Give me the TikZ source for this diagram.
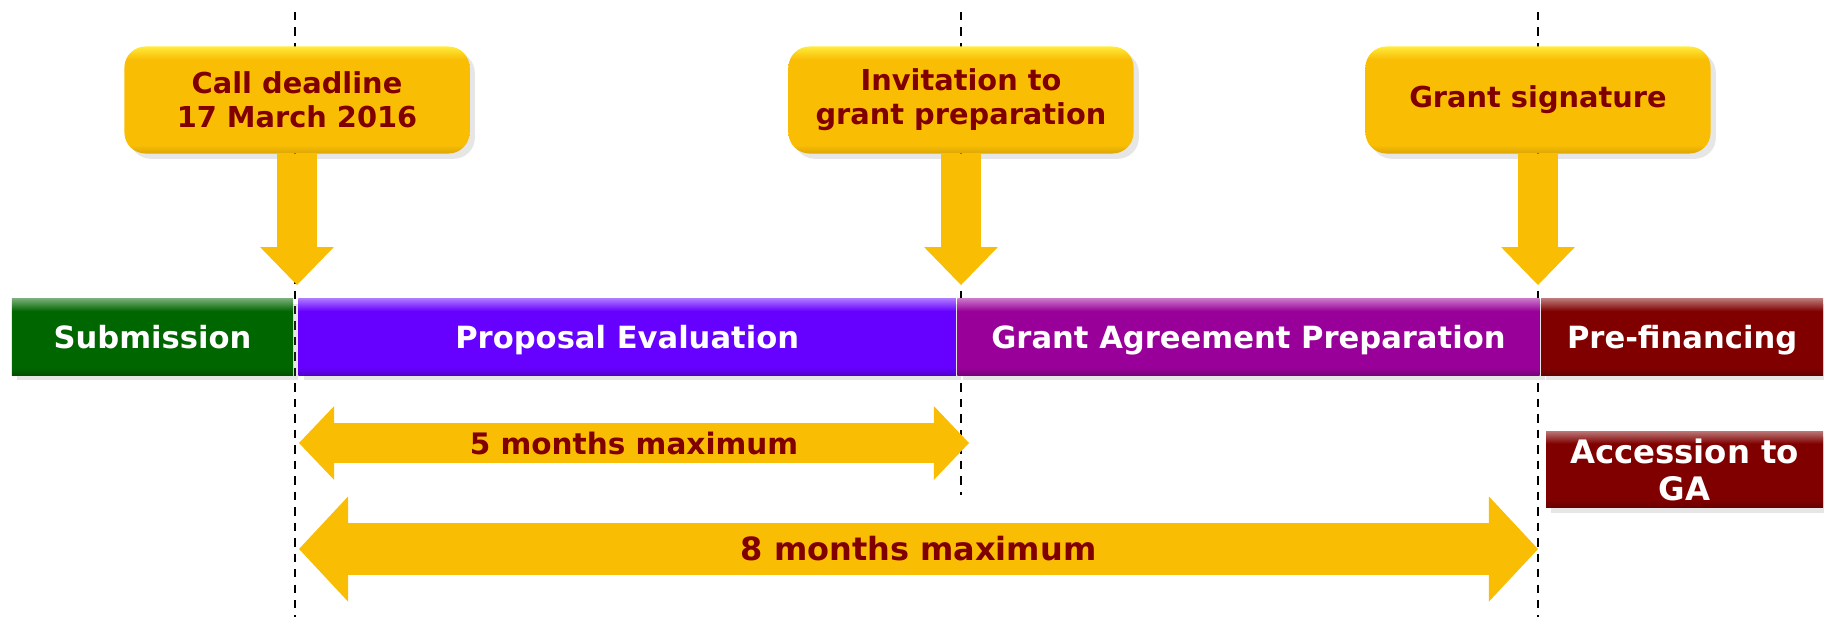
\documentclass[tikz,border=0pt]{standalone}
\usepackage{fontspec}
\setmainfont{DejaVu Sans}
\usetikzlibrary{arrows.meta,positioning,shadows}
\definecolor{gold}{HTML}{F9BD04}
\definecolor{goldhi}{HTML}{FFEB3B}
\definecolor{maroon}{HTML}{800000}
\definecolor{subcol}{HTML}{006600}
\definecolor{evalcol}{HTML}{6600FF}
\definecolor{prepcol}{HTML}{990099}
\definecolor{fincol}{HTML}{800000}
\colorlet{bevel}{gold}
\pgfdeclareverticalshading[bevel]{bevelled}{100bp}{color(0bp)=(bevel!80!black);
  color(25bp)=(bevel!80!black); color(30bp)=(bevel); color(67bp)=(bevel);
  color(75bp)=(bevel!55!white); color(100bp)=(bevel!55!white)}
\pgfdeclareverticalshading{goldbevel}{100bp}{color(0bp)=(gold!88!black);
  color(25bp)=(gold!88!black); color(29bp)=(gold); color(69bp)=(gold);
  color(75bp)=(goldhi); color(100bp)=(goldhi)}
\tikzset{phase/.style={minimum height=7.6mm,inner sep=0pt,text=white,align=center,
  /utils/exec={\colorlet{bevel}{#1}},shading=bevelled,
  font=\bfseries\fontsize{8.7}{10}\selectfont,
  drop shadow={opacity=0.2,shadow xshift=1.5pt,shadow yshift=-1.5pt}},
  oneline/.style={text height=1.55ex,text depth=0.35ex},
  callout/.style={rounded corners=6pt,minimum width=34.5mm,minimum height=10.7mm,
  align=center,text=maroon,font=\bfseries\fontsize{8.2}{9.6}\selectfont,
  shading=goldbevel,
  drop shadow={opacity=0.2,shadow xshift=1.5pt,shadow yshift=-1.5pt}},
  stem/.style={line width=11.4pt,draw=gold,-{Triangle[width=21pt,length=10.8pt,line width=0pt]}},
  guide/.style={draw=black,line width=0.5pt,dash pattern=on 2.4pt off 2pt}}

\begin{document}
\begin{tikzpicture}[x=0.01cm,y=-0.01cm]
\useasboundingbox (0,0) rectangle (1824,617);
% milestones on the time line
\coordinate (d1top) at (295,12);   \coordinate (d1bot) at (295,617);
\coordinate (d2top) at (961,12);   \coordinate (d2bot) at (961,495);
\coordinate (d3top) at (1538,12);  \coordinate (d3bot) at (1538,617);
\draw[guide] (d1top)--(d1bot);
\draw[guide] (d2top)--(d2bot);
\draw[guide] (d3top)--(d3bot);

% phases
\node[phase=subcol,oneline,minimum width=2.81cm] (sub) at (152.5,337) {Submission};
\node[phase=evalcol,oneline,minimum width=6.57cm,right=0.04cm of sub] (eval) {Proposal Evaluation};
\node[phase=prepcol,oneline,minimum width=5.82cm,right=0pt of eval] (prep) {Grant Agreement Preparation};
\node[phase=fincol,oneline,minimum width=2.82cm,right=0pt of prep] (fin) {Pre-financing};
\node[phase=fincol,minimum width=2.77cm,font=\bfseries\fontsize{9.2}{10.5}\selectfont,
  below=0.55cm of fin.south east,anchor=north east] (acc) {Accession to\\GA};

% call-outs
\node[callout] (call) at (297,100) {Call deadline\\17 March 2016};
\node[callout] (invite) at (961,100) {Invitation to\\grant preparation};
\node[callout] (sign) at (1538,100) {Grant signature};
\coordinate (t1) at (297,285);
\coordinate (t2) at (961,285);
\coordinate (t3) at (1538,285);
\draw[stem] (call)--(t1);
\draw[stem] (invite)--(t2);
\draw[stem] (sign)--(t3);

% durations
\coordinate (a5l) at (299,443); \coordinate (a5r) at (969,443);
\coordinate (a8l) at (299,549); \coordinate (a8r) at (1538,549);
\draw[line width=11.4pt,draw=gold,{Triangle[width=21pt,length=10pt,line width=0pt]}-{Triangle[width=21pt,length=10pt,line width=0pt]}]
  (a5l)--(a5r) node[midway,text=maroon,font=\bfseries\fontsize{8.4}{10}\selectfont] (five) {5 months maximum};
\draw[line width=14.8pt,draw=gold,{Triangle[width=30pt,length=14pt,line width=0pt]}-{Triangle[width=30pt,length=14pt,line width=0pt]}]
  (a8l)--(a8r) node[midway,text=maroon,font=\bfseries\fontsize{9.1}{11}\selectfont] (eight) {8 months maximum};
\end{tikzpicture}
\end{document}
